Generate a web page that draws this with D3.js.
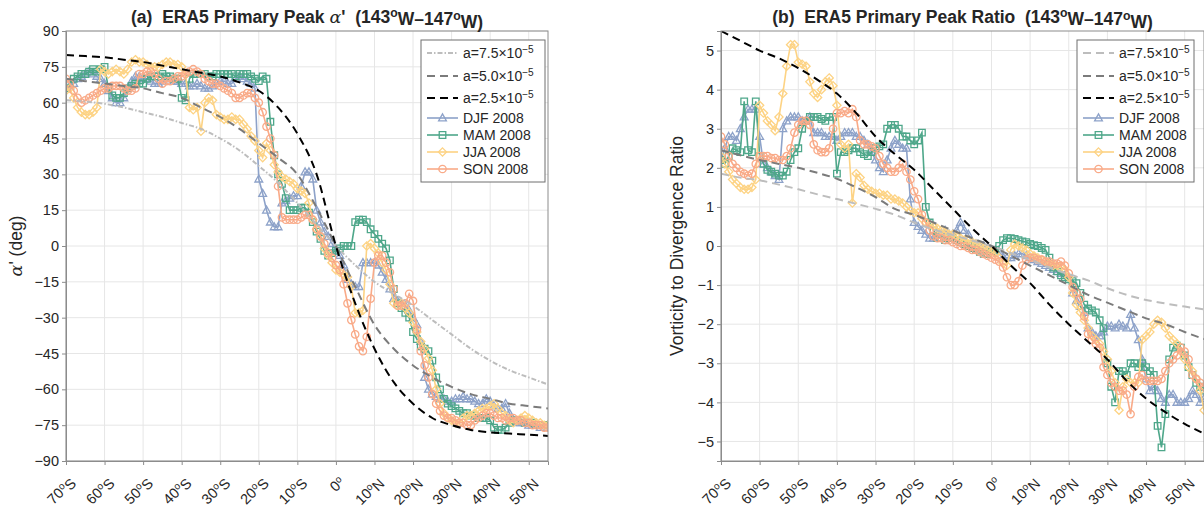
<!DOCTYPE html>
<html>
<head>
<meta charset="utf-8">
<script src="https://cdn.jsdelivr.net/npm/d3@7"></script>
<style>
    body { margin: 0; background: #fff; }
    svg text { font-family: "Liberation Sans", Arial, Helvetica, sans-serif; fill: #262626; }
</style>
</head>
<body>
<svg id="chart" width="1204" height="511"></svg>
<script>
// latitude of every sample (deg, negative = south)
var lats = [-70, -69, -68, -67, -66, -65, -64, -63, -62, -61, -60, -59, -58, -57, -56, -55, -54, -53, -52, -51,
    -50, -49, -48, -47, -46, -45, -44, -43, -42, -41, -40, -39, -38, -37, -36, -35, -34, -33, -32, -31,
    -30, -29, -28, -27, -26, -25, -24, -23, -22, -21, -20, -19, -18, -17, -16, -15, -14, -13, -12, -11,
    -10, -9, -8, -7, -6, -5, -4, -3, -2, -1, 0, 1, 2, 3, 4, 5, 6, 7, 8, 9,
    10, 11, 12, 13, 14, 15, 16, 17, 18, 19, 20, 21, 22, 23, 24, 25, 26, 27, 28, 29,
    30, 31, 32, 33, 34, 35, 36, 37, 38, 39, 40, 41, 42, 43, 44, 45, 46, 47, 48, 49,
    50, 51, 52, 53, 54, 55];

// latitudes of the theory curves
var thLats = [-70, -65, -60, -55, -50, -45, -40, -35, -30, -25, -20, -15, -10, -5, 0, 5, 10, 15, 20, 25, 30, 35, 40, 45, 50, 55];

var xTicks = [-70, -60, -50, -40, -30, -20, -10, 0, 10, 20, 30, 40, 50];
var alphaTicks = [-90, -75, -60, -45, -30, -15, 0, 15, 30, 45, 60, 75, 90];
var ratioTicks = [-5, -4, -3, -2, -1, 0, 1, 2, 3, 4, 5];

var seasons = ["DJF 2008", "MAM 2008", "JJA 2008", "SON 2008"];
var theoryNames = ["7.5", "5.0", "2.5"];

// (a) theory alpha' for the three a values
var alphaTh75 = [61, 60.5, 59.5, 58, 56, 54, 51.5, 49, 45, 40, 33.5, 26.5, 18, 9, 0, -8, -15, -20, -25, -31, -37, -43, -48, -52, -55, -58];
var alphaTh50 = [70, 69, 68, 67, 66, 64, 62, 58, 54, 49, 43, 37, 30, 16, 0, -17, -33, -43, -50, -55, -59, -62, -64, -66, -67, -68];
var alphaTh25 = [80, 79.5, 79, 78, 77, 75.5, 74, 72.5, 71, 68.5, 65, 58, 47, 30, 0, -24, -43, -57, -66, -72, -75, -77, -78, -78.5, -79, -79.5];

// (a) primary peak alpha' by season
var alphaDJF = [66, 67, 68, 70, 71, 72, 73, 72, 71, 70, 68, 65, 62, 60, 60, 62, 66, 69, 71, 71,
    70, 70, 69, 68, 68, 69, 70, 70, 69, 69, 68, 68, 67, 67, 68, 67, 66, 66, 67, 68,
    69, 69, 68, 68, 70, 71, 70, 69, 68, 66, 28, 22, 15, 10, 8, 8, 18, 19, 20, 21,
    21, 25, 31, 31, 28, 15, 10, 6, 4, 1, -2, -4, -8, -14, -16, -17, -17, -7, -7, -7,
    -7, -8, -11, -14, -18, -22, -23, -24, -25, -27, -30, -33, -40, -55, -60, -62, -63, -64, -64, -65,
    -65, -64, -64, -63, -64, -64, -65, -66, -66, -64, -65, -67, -68, -68, -66, -70, -73, -74, -74, -74,
    -75, -75, -75, -76, -76, -75];
var alphaMAM = [66, 68, 70, 71, 72, 72, 73, 74, 73, 74, 75, 66, 63, 62, 62, 64, 66, 67, 68, 68,
    68, 70, 71, 71, 71, 72, 71, 71, 70, 70, 62, 61, 70, 72, 72, 72, 72, 71, 71, 72,
    72, 72, 72, 72, 71, 72, 72, 72, 71, 70, 69, 71, 70, 52, 38, 30, 26, 20, 15, 15,
    15, 16, 16, 14, 10, 6, 3, -2, -4, -3, -2, -1, 0, 0, 0, 10, 11, 11, 10, 7,
    5, 3, 1, -1, -6, -18, -24, -26, -28, -30, -36, -39, -42, -43, -44, -48, -55, -60, -64, -66,
    -67, -68, -69, -70, -70, -71, -71, -72, -72, -72, -73, -76, -77, -77, -76, -74, -73, -73, -73, -74,
    -74, -74, -75, -75, -75, -75];
var alphaJJA = [65, 66, 62, 58, 56, 55, 55, 56, 58, 74, 73, 72, 73, 74, 73, 72, 74, 77, 78, 77,
    77, 76, 75, 75, 75, 76, 77, 77, 76, 76, 75, 72, 58, 57, 58, 48, 60, 62, 61, 55,
    54, 53, 53, 54, 53, 53, 51, 49, 46, 44, 40, 37, 43, 40, 34, 31, 29, 28, 27, 26,
    24, 23, 22, 18, 11, 7, 4, -1, -4, -7, -10, -11, -12, -13, -17, -28, -28, -27, 0, 1,
    -1, -3, -7, -10, -16, -24, -25, -24, -26, -28, -32, -36, -40, -43, -47, -52, -60, -66, -70, -72,
    -73, -74, -74, -72, -71, -71, -70, -69, -68, -68, -67, -66, -68, -70, -71, -73, -74, -73, -72, -71,
    -72, -73, -74, -74, -75, -75];
var alphaSON = [70, 68, 65, 62, 60, 61, 62, 63, 64, 65, 66, 66, 67, 67, 67, 66, 65, 65, 66, 72,
    72, 73, 73, 72, 70, 68, 69, 69, 70, 71, 71, 72, 73, 74, 73, 72, 70, 69, 68, 68,
    67, 66, 65, 64, 62, 62, 63, 64, 64, 62, 60, 56, 50, 45, 38, 25, 12, 11, 11, 11,
    11, 12, 13, 13, 11, 7, 4, 1, -3, -5, -8, -10, -16, -24, -31, -37, -42, -44, -38, -22,
    -7, -4, -4, -7, -11, -18, -25, -25, -24, -20, -23, -35, -44, -50, -55, -62, -66, -69, -71, -72,
    -72, -73, -74, -74, -75, -75, -73, -72, -71, -70, -70, -71, -72, -72, -73, -72, -72, -73, -73, -74,
    -74, -75, -75, -75, -76, -76];

// (b) theory vorticity/divergence ratio
var ratioTh75 = [1.85, 1.75, 1.68, 1.57, 1.45, 1.32, 1.2, 1.08, 0.95, 0.8, 0.6, 0.42, 0.28, 0.14, 0, -0.18, -0.35, -0.55, -0.72, -0.88, -1.08, -1.25, -1.38, -1.47, -1.55, -1.62];
var ratioTh50 = [2.45, 2.32, 2.2, 2.1, 2.0, 1.87, 1.72, 1.5, 1.25, 0.95, 0.8, 0.6, 0.4, 0.2, 0, -0.25, -0.5, -0.75, -1.0, -1.25, -1.45, -1.65, -1.85, -2.0, -2.2, -2.38];
var ratioTh25 = [5.5, 5.25, 5.0, 4.8, 4.55, 4.25, 3.9, 3.4, 2.8, 2.35, 1.95, 1.45, 0.95, 0.45, 0, -0.5, -0.95, -1.5, -2.0, -2.45, -2.9, -3.45, -3.9, -4.25, -4.55, -4.8];

// (b) primary peak ratio by season
var ratioDJF = [2.2, 2.5, 2.8, 2.8, 2.7, 3.0, 3.3, 3.5, 3.5, 3.5, 2.8, 2.1, 2.0, 1.9, 1.8, 1.7, 3.0, 3.2, 3.3, 3.3,
    3.3, 3.2, 3.2, 3.3, 2.9, 2.9, 2.9, 2.8, 2.8, 2.8, 2.7, 2.8, 2.9, 2.9, 2.9, 2.8, 2.8, 2.7, 2.6, 2.4,
    2.2, 2.0, 1.9, 2.2, 2.5, 2.7, 2.6, 2.5, 2.5, 1.2, 0.6, 0.5, 0.4, 0.3, 0.2, 0.2, 0.3, 0.3, 0.4, 0.3,
    0.3, 0.4, 0.6, 0.4, 0.3, 0.1, 0.05, 0, 0, -0.05, -0.1, -0.1, -0.15, -0.28, -0.3, -0.3, -0.25, -0.2, -0.2, -0.25,
    -0.3, -0.35, -0.4, -0.45, -0.5, -0.55, -0.6, -0.65, -0.7, -0.75, -0.8, -1.2, -1.4, -1.55, -1.7, -2.1, -2.2, -2.3, -2.3, -2.2,
    -2.05, -2.05, -2.1, -2.0, -2.05, -2.1, -1.75, -2.1, -2.4, -2.9, -3.4, -3.7, -3.6, -3.7, -3.9, -4.0, -3.8, -3.8, -4.0, -4.0,
    -4.0, -3.9, -3.7, -3.8, -4.0, -3.9];
var ratioMAM = [2.2, 2.1, 2.3, 2.5, 2.45, 2.4, 3.7, 2.45, 2.4, 3.7, 2.3, 2.1, 1.95, 1.9, 1.85, 1.8, 1.8, 1.9, 2.2, 2.4,
    2.5, 3.0, 3.2, 3.3, 3.3, 3.3, 3.25, 3.2, 3.3, 3.3, 1.85, 2.4, 2.4, 2.45, 2.5, 2.5, 2.4, 2.35, 2.3, 2.4,
    2.5, 2.55, 2.6, 3.0, 3.1, 3.1, 3.0, 2.8, 2.8, 2.7, 2.6, 2.7, 2.9, 1.0, 0.6, 0.4, 0.2, 0.2, 0.15, 0.2,
    0.2, 0.15, 0.1, 0.05, 0, -0.05, -0.1, -0.15, -0.2, -0.2, -0.15, -0.1, 0, 0.15, 0.2, 0.2, 0.18, 0.15, 0.12, 0.1,
    0.05, 0.02, 0, -0.05, -0.1, -0.3, -0.55, -0.65, -0.75, -0.8, -0.85, -0.9, -0.95, -1.2, -1.5, -1.6, -1.65, -1.7, -1.9, -2.1,
    -3.0, -3.6, -4.0, -3.2, -3.2, -3.3, -3.0, -3.0, -3.1, -3.0, -3.1, -3.2, -3.3, -4.6, -5.15, -4.3, -2.9, -2.6, -2.55, -2.6,
    -2.8, -3.1, -3.3, -3.5, -3.6, -3.7];
var ratioJJA = [2.3, 2.1, 1.9, 1.7, 1.6, 1.5, 1.45, 1.45, 1.5, 1.7, 3.6, 3.4, 3.2, 3.1, 2.95, 3.3, 3.9, 4.6, 5.15, 5.15,
    4.7, 4.65, 4.6, 4.2, 3.9, 3.8, 4.0, 4.2, 4.3, 4.1, 3.6, 2.6, 2.5, 2.6, 1.1, 1.85, 1.75, 1.55, 1.45, 1.4,
    1.35, 1.35, 1.3, 1.3, 1.2, 1.2, 1.15, 1.1, 1.0, 0.9, 0.85, 0.85, 0.7, 0.6, 0.55, 0.5, 0.45, 0.4, 0.35, 0.3,
    0.3, 0.25, 0.2, 0.15, 0.15, 0.1, 0.05, 0, -0.05, -0.1, -0.15, -0.2, -0.3, -0.45, -0.5, -0.1, 0.05, 0, -0.05, -0.1,
    -0.2, -0.25, -0.3, -0.35, -0.4, -0.45, -0.5, -0.5, -0.55, -0.6, -0.8, -1.2, -1.5, -1.7, -1.9, -2.1, -2.3, -2.4, -2.5, -2.7,
    -2.9, -3.2, -3.5, -4.2, -3.6, -3.4, -3.5, -3.5, -3.5, -2.4, -2.3, -2.2, -2.0, -1.9, -1.95, -2.1, -2.3, -2.4, -2.5, -2.7,
    -2.9, -3.1, -3.2, -3.4, -3.7, -4.2];
var ratioSON = [2.8, 2.6, 2.3, 2.1, 2.0, 1.9, 1.85, 1.8, 1.85, 2.1, 2.3, 2.3, 2.3, 2.25, 2.25, 2.2, 2.2, 2.3, 2.5, 2.9,
    3.1, 3.2, 3.2, 3.1, 2.6, 2.45, 2.4, 2.4, 2.5, 3.0, 3.4, 3.4, 3.45, 3.4, 3.5, 3.3, 2.7, 2.6, 2.6, 2.55,
    2.5, 2.3, 2.1, 2.0, 1.9, 1.9, 2.0, 2.1, 1.9, 1.7, 1.4, 1.2, 0.8, 0.6, 0.4, 0.25, 0.2, 0.2, 0.15, 0.15,
    0.1, 0.05, 0, 0, -0.05, -0.1, -0.1, -0.15, -0.2, -0.25, -0.3, -0.35, -0.4, -0.55, -0.8, -1.0, -1.0, -0.9, -0.5, -0.35,
    -0.3, -0.3, -0.35, -0.35, -0.4, -0.4, -0.45, -0.45, -0.4, -0.5, -0.7, -1.05, -1.2, -1.35, -1.8, -2.25, -2.4, -2.5, -2.6, -3.1,
    -3.3, -3.5, -3.6, -3.7, -3.7, -3.8, -4.3, -3.6, -3.35, -3.3, -3.45, -3.45, -3.45, -3.45, -3.4, -3.2, -3.0, -2.9, -2.8, -2.6,
    -2.7, -2.9, -3.3, -3.4, -3.5, -3.6];

(function () {
    "use strict";

    var svg = d3.select('#chart');

    var seasonColors = ['#8da2c9', '#4ea78a', '#fdd384', '#f9aa88'];
    var theoryColors = ['#bdbdbd', '#7b7b7b', '#000000'];
    var frameColor = '#8c8c8c';
    var NB = '\u00a0';

    // marker shapes, hollow like the original
    function markerPath(kind) {
        var s = 4.1;
        if (kind === 0) {
            return 'M0,' + (-s) + 'L' + (s * 0.95) + ',' + (s * 0.7) + 'L' + (-s * 0.95) + ',' + (s * 0.7) + 'Z';
        }
        if (kind === 1) {
            return 'M' + (-s * 0.8) + ',' + (-s * 0.8) + 'h' + (s * 1.6) + 'v' + (s * 1.6) + 'h' + (-s * 1.6) + 'Z';
        }
        if (kind === 2) {
            return 'M0,' + (-s) + 'L' + s + ',0L0,' + s + 'L' + (-s) + ',0Z';
        }
        return d3.symbol(d3.symbolCircle, Math.PI * 3.7 * 3.7)();
    }

    // write "70°S" style text with a raised small "o"
    function degText(sel, num, hemi) {
        sel.text(null);
        sel.append('tspan').text(num);
        sel.append('tspan').attr('dy', '-0.45em').attr('font-size', '0.68em').text('o');
        if (hemi) {
            sel.append('tspan').attr('dy', '0.45em').text(hemi);
        }
    }

    function drawPanel(p) {
        var x = d3.scaleLinear().domain([-70, 55]).range([p.left, p.right]),
            y = d3.scaleLinear().domain(p.yDomain).range([p.bottom, p.top]);
        var g = svg.append('g');

        g.append('clipPath').attr('id', p.id + '-clip')
            .append('rect').attr('x', p.left).attr('y', p.top)
            .attr('width', p.right - p.left).attr('height', p.bottom - p.top);

        // grid
        g.selectAll('.gx').data(xTicks).enter().append('line')
            .attr('x1', function (d) { return x(d); }).attr('x2', function (d) { return x(d); })
            .attr('y1', p.top).attr('y2', p.bottom)
            .attr('stroke', '#e6e6e6').attr('stroke-width', 1);
        g.selectAll('.gy').data(p.yTicks).enter().append('line')
            .attr('x1', p.left).attr('x2', p.right)
            .attr('y1', function (d) { return y(d); }).attr('y2', function (d) { return y(d); })
            .attr('stroke', '#e6e6e6').attr('stroke-width', 1);

        var plot = g.append('g').attr('clip-path', 'url(#' + p.id + '-clip)');

        // seasonal series
        p.series.forEach(function (vals, i) {
            var pts = lats.map(function (la, k) { return [la, vals[k]]; });
            plot.append('path').datum(pts)
                .attr('d', d3.line().x(function (d) { return x(d[0]); }).y(function (d) { return y(d[1]); }))
                .attr('fill', 'none').attr('stroke', seasonColors[i]).attr('stroke-width', 1.6);
            plot.selectAll('.m' + i).data(pts).enter().append('path')
                .attr('d', markerPath(i))
                .attr('transform', function (d) { return 'translate(' + x(d[0]) + ',' + y(d[1]) + ')'; })
                .attr('fill', 'none').attr('stroke', seasonColors[i]).attr('stroke-width', 1.3);
        });

        // theory curves
        p.theory.forEach(function (vals, i) {
            var pts = thLats.map(function (la, k) { return [la, vals[k]]; });
            plot.append('path').datum(pts)
                .attr('d', d3.line().curve(d3.curveMonotoneX)
                    .x(function (d) { return x(d[0]); }).y(function (d) { return y(d[1]); }))
                .attr('fill', 'none').attr('stroke', theoryColors[i]).attr('stroke-width', 2)
                .attr('stroke-dasharray', i === 0 ? p.dash0 : '8,5');
        });

        // frame
        g.append('rect').attr('x', p.left).attr('y', p.top)
            .attr('width', p.right - p.left).attr('height', p.bottom - p.top)
            .attr('fill', 'none').attr('stroke', frameColor).attr('stroke-width', 1);

        // axes
        var ax = g.append('g').attr('transform', 'translate(0,' + p.bottom + ')')
            .call(d3.axisBottom(x).tickValues(xTicks).tickSizeOuter(0).tickSize(4));
        var ay = g.append('g').attr('transform', 'translate(' + p.left + ',0)')
            .call(d3.axisLeft(y).tickValues(p.yTicks).tickSizeOuter(0).tickSize(4).tickFormat(d3.format('d')));
        [ax, ay].forEach(function (a) {
            a.select('.domain').attr('stroke', frameColor);
            a.selectAll('.tick line').attr('stroke', frameColor);
            a.selectAll('text').attr('font-size', 14.5).attr('fill', '#262626')
                .attr('font-family', '"Liberation Sans", Arial, sans-serif');
        });
        ay.selectAll('.tick text').attr('x', -7);
        ax.selectAll('.tick text').each(function (d) {
            var t = d3.select(this);
            var hemi = d < 0 ? 'S' : (d > 0 ? 'N' : '');
            degText(t, String(Math.abs(d)), hemi);
            t.attr('text-anchor', 'end').attr('y', 0).attr('dy', 0)
                .attr('transform', 'translate(9,22) rotate(-45)');
        });

        // title
        var tt = g.append('text').attr('x', (p.left + p.right) / 2).attr('y', 23)
            .attr('text-anchor', 'middle').attr('font-size', 17.5).attr('font-weight', 'bold');
        p.title(tt);

        // y label
        var yl = g.append('text')
            .attr('transform', 'translate(' + p.ylabelX + ',' + ((p.top + p.bottom) / 2) + ') rotate(-90)')
            .attr('text-anchor', 'middle').attr('font-size', 17.5);
        p.ylabel(yl);

        // legend
        var L = p.legend;
        var lg = g.append('g').attr('transform', 'translate(' + L.x + ',' + L.y + ')');
        lg.append('rect').attr('width', L.w).attr('height', L.h)
            .attr('fill', '#fff').attr('stroke', '#6f6f6f').attr('stroke-width', 1);
        var rows = [13, 36, 58, 78, 95, 112, 129];
        theoryNames.forEach(function (nm, i) {
            var ry = rows[i];
            lg.append('line').attr('x1', 6).attr('x2', 37).attr('y1', ry).attr('y2', ry)
                .attr('stroke', theoryColors[i]).attr('stroke-width', 2)
                .attr('stroke-dasharray', i === 0 ? p.dash0 : '8,5');
            var t = lg.append('text').attr('x', 42).attr('y', ry + 5).attr('font-size', 14);
            t.append('tspan').text('a=' + nm + '\u00d710');
            t.append('tspan').attr('dy', '-0.5em').attr('font-size', '0.72em').text('\u22125');
        });
        seasons.forEach(function (nm, i) {
            var ry = rows[i + 3];
            lg.append('line').attr('x1', 6).attr('x2', 37).attr('y1', ry).attr('y2', ry)
                .attr('stroke', seasonColors[i]).attr('stroke-width', 1.6);
            lg.append('path').attr('d', markerPath(i)).attr('transform', 'translate(21.5,' + ry + ')')
                .attr('fill', 'none').attr('stroke', seasonColors[i]).attr('stroke-width', 1.3);
            lg.append('text').attr('x', 42).attr('y', ry + 5).attr('font-size', 14).text(nm);
        });
    }

    function regionTail(t) {
        t.append('tspan').text(NB + NB + '(143');
        t.append('tspan').attr('dy', '-0.45em').attr('font-size', '0.7em').text('o');
        t.append('tspan').attr('dy', '0.45em').text('W\u2013147');
        t.append('tspan').attr('dy', '-0.45em').attr('font-size', '0.7em').text('o');
        t.append('tspan').attr('dy', '0.45em').text('W)');
    }

    drawPanel({
        id: 'pa', left: 66, right: 548, top: 31, bottom: 461,
        yDomain: [-90, 90], yTicks: alphaTicks,
        series: [alphaDJF, alphaMAM, alphaJJA, alphaSON],
        theory: [alphaTh75, alphaTh50, alphaTh25],
        dash0: '5,2,1.5,2',
        legend: { x: 421, y: 40, w: 124, h: 142 },
        ylabelX: 22,
        title: function (t) {
            t.append('tspan').text('(a)' + NB + NB + 'ERA5 Primary Peak ');
            t.append('tspan').attr('font-family', '"DejaVu Serif", serif').attr('font-style', 'italic')
                .attr('font-weight', 'normal').text('\u03b1');
            t.append('tspan').text('\'');
            regionTail(t);
        },
        ylabel: function (t) {
            t.append('tspan').attr('font-family', '"DejaVu Serif", serif').attr('font-style', 'italic').text('\u03b1');
            t.append('tspan').text('\' (deg)');
        }
    });

    drawPanel({
        id: 'pb', left: 721, right: 1204, top: 31, bottom: 461,
        yDomain: [-5.5, 5.5], yTicks: ratioTicks,
        series: [ratioDJF, ratioMAM, ratioJJA, ratioSON],
        theory: [ratioTh75, ratioTh50, ratioTh25],
        dash0: '8,5',
        legend: { x: 1077, y: 40, w: 117, h: 142 },
        ylabelX: 683,
        title: function (t) {
            t.append('tspan').text('(b)' + NB + NB + 'ERA5 Primary Peak Ratio');
            regionTail(t);
        },
        ylabel: function (t) { t.text('Vorticity to Divergence Ratio'); }
    });
}());
</script>
</body>
</html>
